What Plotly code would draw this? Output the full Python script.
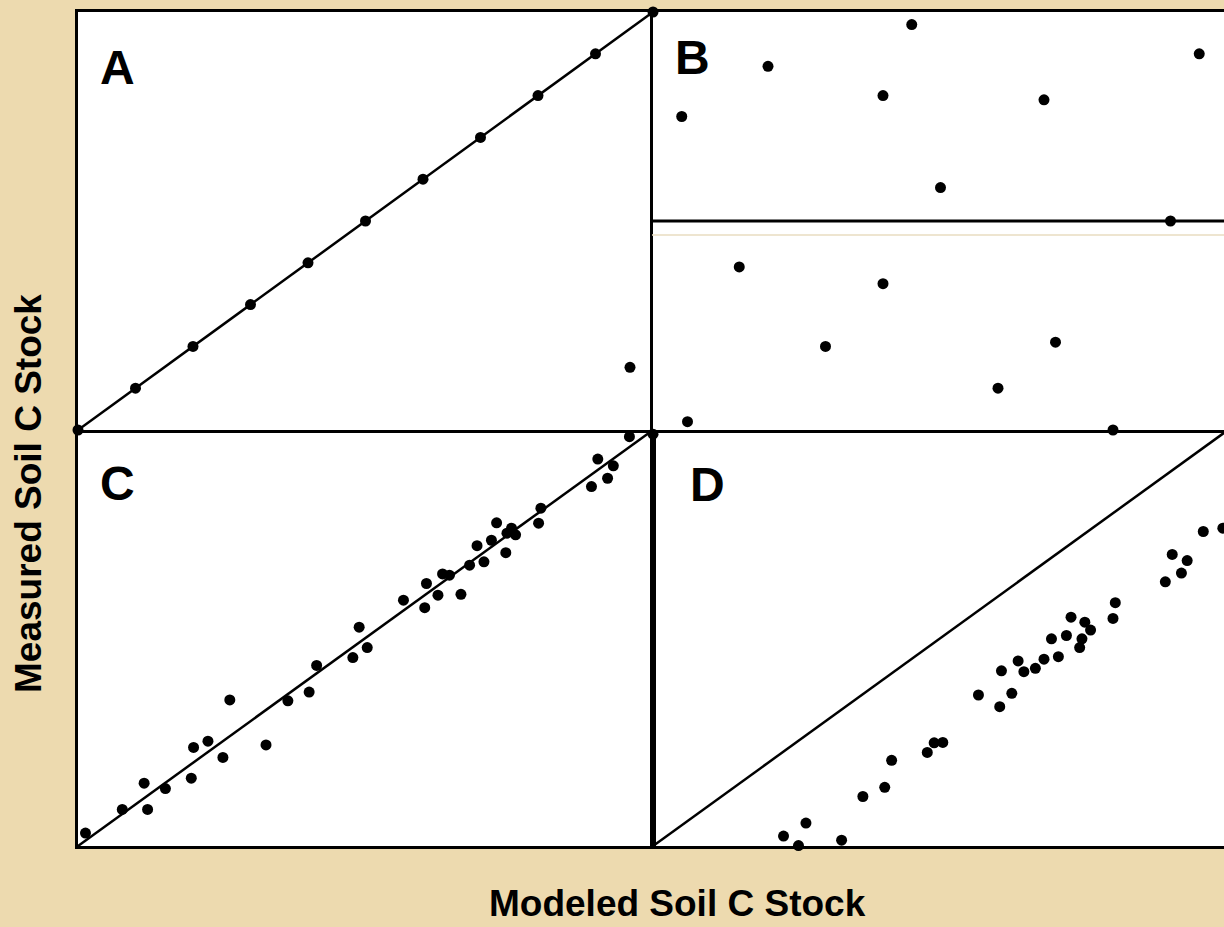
import plotly.graph_objects as go

# ---------------- data ----------------
# Panel A: modeled vs measured, perfect agreement + one outlier
a_x = [0, 1, 2, 3, 4, 5, 6, 7, 8, 9, 10, 9.6]
a_y = [0, 1, 2, 3, 4, 5, 6, 7, 8, 9, 10, 1.5]

# Panel B: no relationship (scatter around the mean)
b_x = [0.5, 2.0, 4.5, 4.0, 5.0, 6.8, 9.5, 9.0, 1.5, 4.0, 3.0, 7.0, 6.0, 0.6, 8.0]
b_y = [7.5, 8.7, 9.7, 8.0, 5.8, 7.9, 9.0, 5.0, 3.9, 3.5, 2.0, 2.1, 1.0, 0.2, 0.0]
b_mean = 5.0

# Panel C: good agreement with scatter
c_x = [0.13, 0.77, 1.21, 1.15, 1.52, 1.97, 2.01, 2.26, 2.52, 2.64, 3.27, 3.65, 4.02,
       4.15, 4.78, 4.89, 5.03, 5.66, 6.03, 6.06, 6.26, 6.34, 6.46, 6.66, 6.81, 6.94,
       7.06, 7.19, 7.28, 7.44, 7.46, 7.54, 7.61, 8.01, 8.05, 8.93, 9.04, 9.21, 9.31,
       9.59, 10.0]
c_y = [0.31, 0.88, 0.88, 1.51, 1.38, 1.63, 2.37, 2.52, 2.13, 3.51, 2.43, 3.49, 3.70,
       4.34, 4.53, 5.26, 4.77, 5.91, 5.73, 6.31, 6.03, 6.54, 6.51, 6.05, 6.75, 7.22,
       6.83, 7.35, 7.77, 7.05, 7.52, 7.64, 7.48, 7.76, 8.12, 8.64, 9.30, 8.84, 9.14,
       9.84, 9.90]

# Panel D: systematic bias (model over-predicts)
d_x = [2.27, 2.53, 2.66, 3.28, 3.65, 4.03, 4.15, 4.77, 4.89, 5.04, 5.66, 6.03, 6.06,
       6.24, 6.35, 6.45, 6.65, 6.80, 6.93, 7.05, 7.19, 7.27, 7.42, 7.46, 7.51, 7.61,
       8.00, 8.04, 8.91, 9.03, 9.19, 9.29, 9.57, 9.91]
d_y = [0.24, 0.01, 0.55, 0.14, 1.19, 1.41, 2.06, 2.25, 2.48, 2.49, 3.63, 3.35, 4.21,
       3.67, 4.45, 4.19, 4.27, 4.49, 4.98, 4.55, 5.06, 5.50, 4.77, 4.98, 5.38, 5.19,
       5.47, 5.85, 6.35, 7.01, 6.56, 6.86, 7.56, 7.64]

one_to_one = [0, 10]
panel_labels = ["A", "B", "C", "D"]
x_title = "Modeled Soil C Stock"
y_title = "Measured Soil C Stock"

# ---------------- layout geometry ----------------
W, H = 1224, 927
BG = "#EDDAAF"
FONT = "Liberation Sans, Arial, Helvetica, sans-serif"


def px_x(p):
    return p / W


def px_y(p):
    return (H - p) / H


left_dom = [px_x(78), px_x(653)]
right_dom = [px_x(653), 1.0]
top_dom = [px_y(430), px_y(12)]
bot_dom = [px_y(846), px_y(430)]
right_xmax = (W - 653) / 57.5  # same scale as left panels, panel cut by page edge

fig = go.Figure()

mk = dict(color="black", size=11)
ln = dict(color="black", width=2.5)

# A
fig.add_trace(go.Scatter(x=one_to_one, y=one_to_one, mode="lines", line=ln,
                         xaxis="x", yaxis="y", cliponaxis=True))
fig.add_trace(go.Scatter(x=a_x, y=a_y, mode="markers", marker=mk,
                         xaxis="x", yaxis="y", cliponaxis=False))
# B
fig.add_trace(go.Scatter(x=[0, right_xmax], y=[b_mean, b_mean], mode="lines",
                         line=dict(color="black", width=3),
                         xaxis="x2", yaxis="y2", cliponaxis=True))
fig.add_trace(go.Scatter(x=b_x, y=b_y, mode="markers", marker=mk,
                         xaxis="x2", yaxis="y2", cliponaxis=False))
# C
fig.add_trace(go.Scatter(x=one_to_one, y=one_to_one, mode="lines", line=ln,
                         xaxis="x3", yaxis="y3", cliponaxis=True))
fig.add_trace(go.Scatter(x=c_x, y=c_y, mode="markers", marker=mk,
                         xaxis="x3", yaxis="y3", cliponaxis=False))
# D
fig.add_trace(go.Scatter(x=one_to_one, y=one_to_one, mode="lines", line=ln,
                         xaxis="x4", yaxis="y4", cliponaxis=True))
fig.add_trace(go.Scatter(x=d_x, y=d_y, mode="markers", marker=mk,
                         xaxis="x4", yaxis="y4", cliponaxis=False))


def ax(domain, rng, anchor, mirror):
    return dict(domain=domain, range=rng, anchor=anchor, showgrid=False,
                zeroline=False, showticklabels=False, ticks="",
                showline=True, linecolor="black", linewidth=3, mirror=mirror,
                fixedrange=True)


fig.update_layout(
    width=W, height=H,
    margin=dict(l=0, r=0, t=0, b=0, pad=0),
    paper_bgcolor=BG, plot_bgcolor="white",
    showlegend=False,
    # A: top + bottom + left (right edge comes from B's left line)
    xaxis=ax(left_dom, [0, 10], "y", True),
    yaxis=ax(top_dom, [0, 10], "x", False),
    # B: top + bottom + left
    xaxis2=ax(right_dom, [0, right_xmax], "y2", True),
    yaxis2=ax(top_dom, [0, 10], "x2", False),
    # C: bottom + left + right (top comes from A's bottom line)
    xaxis3=ax(left_dom, [0, 10], "y3", False),
    yaxis3=ax(bot_dom, [0, 10], "x3", True),
    # D: bottom + left (top comes from B's bottom line)
    xaxis4=ax(right_dom, [0, right_xmax], "y4", False),
    yaxis4=ax(bot_dom, [0, 10], "x4", False),
)

# panel letters
label_pos = [(98, 68), (673, 58), (98, 484), (688, 485)]
for lab, (lx, ly) in zip(panel_labels, label_pos):
    fig.add_annotation(text="<b>%s</b>" % lab, x=px_x(lx), y=px_y(ly),
                       xref="paper", yref="paper", xanchor="left", yanchor="middle",
                       showarrow=False, font=dict(family=FONT, size=48, color="black"))

# axis titles
fig.add_annotation(text="<b>%s</b>" % x_title, x=px_x(677), y=px_y(903),
                   xref="paper", yref="paper", xanchor="center", yanchor="middle",
                   showarrow=False, font=dict(family=FONT, size=37, color="black"))
fig.add_annotation(text="<b>%s</b>" % y_title, x=px_x(29), y=px_y(494),
                   xref="paper", yref="paper", xanchor="center", yanchor="middle",
                   textangle=-90, showarrow=False,
                   font=dict(family=FONT, size=37, color="black"))

# faint seam across panel B (as in the reference image)
fig.add_shape(type="line", xref="paper", yref="paper",
              x0=px_x(652), x1=1.0, y0=px_y(235), y1=px_y(235),
              line=dict(color="#E9DCC0", width=1.5), layer="above")

fig.write_html(
    "out.html",
    config={"displayModeBar": False},
    post_script="document.body.style.margin='0';document.body.style.padding='0';"
                "document.body.style.overflow='hidden';"
                "document.body.style.background='" + BG + "';",
)
